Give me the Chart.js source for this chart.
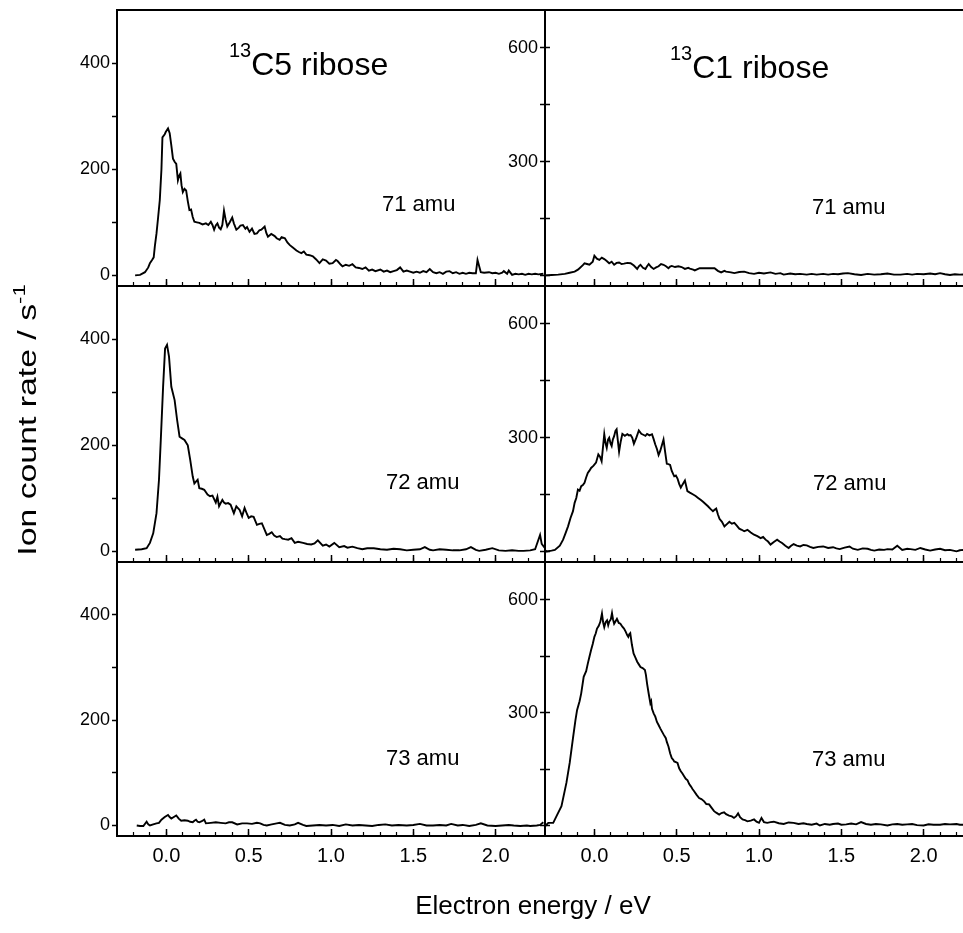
<!DOCTYPE html>
<html>
<head>
<meta charset="utf-8">
<script src="https://cdn.jsdelivr.net/npm/chart.js@4.4.0/dist/chart.umd.min.js"></script>
<style>
    html, body { margin: 0; padding: 0; background: #fff; overflow: hidden; width: 963px; height: 933px; }
    #page { position: relative; width: 963px; height: 933px; overflow: hidden; }
    canvas { position: absolute; }
    .lbl { position: absolute; z-index: 5; font-family: "Liberation Sans", Arial, sans-serif; color: #000; line-height: 1; white-space: nowrap; }
    .sup { position: relative; }
</style>
</head>
<body>
<div id="page">
    <div class="lbl" style="left:229px; top:48px; font-size:32px;"><span class="sup" style="font-size:20px; top:-18px;">13</span>C5 ribose</div>
    <div class="lbl" style="left:670px; top:51px; font-size:32px;"><span class="sup" style="font-size:20px; top:-18px;">13</span>C1 ribose</div>
    <div class="lbl" style="left:382px; top:193px; font-size:22px;">71 amu</div>
    <div class="lbl" style="left:386px; top:471px; font-size:22px;">72 amu</div>
    <div class="lbl" style="left:386px; top:747px; font-size:22px;">73 amu</div>
    <div class="lbl" style="left:812px; top:196px; font-size:22px;">71 amu</div>
    <div class="lbl" style="left:813px; top:472px; font-size:22px;">72 amu</div>
    <div class="lbl" style="left:812px; top:748px; font-size:22px;">73 amu</div>
    <div class="lbl" style="left:533px; top:905px; font-size:26px; transform: translate(-50%, -50%);">Electron energy / eV</div>
    <div class="lbl" style="left:27px; top:420px; font-size:26px; transform: translate(-50%, -50%) rotate(-90deg) scaleX(1.3);">Ion count rate / s<span class="sup" style="font-size:17px; top:-11px;">-1</span></div>
</div>
<script>
// axis ticks
const xMajorTicks = [0, 0.5, 1.0, 1.5, 2.0];
const xMinorTicks = [-0.2, -0.1, 0, 0.1, 0.2, 0.3, 0.4, 0.5, 0.6, 0.7, 0.8, 0.9, 1.0, 1.1, 1.2, 1.3, 1.4, 1.5, 1.6, 1.7, 1.8, 1.9, 2.0, 2.1, 2.2];
const leftYTicks = [0, 100, 200, 300, 400];
const leftYLabels = [0, 200, 400];
const rightYTicks = [0, 150, 300, 450, 600];
const rightYLabels = [300, 600];

// 13C5 ribose, 71 amu
const c5m71Energy = [
    -0.19, -0.16, -0.13, -0.11, -0.10, -0.085, -0.077, -0.07, -0.06, -0.05,
    -0.04, -0.03, -0.024, -0.01, -0.004, 0.01, 0.02, 0.03, 0.04, 0.05,
    0.06, 0.07, 0.078, 0.085, 0.092, 0.10, 0.11, 0.12, 0.13, 0.14,
    0.15, 0.16, 0.17, 0.185, 0.20, 0.22, 0.24, 0.255, 0.27, 0.28,
    0.29, 0.30, 0.31, 0.32, 0.33, 0.34, 0.35, 0.36, 0.37, 0.385,
    0.40, 0.41, 0.425, 0.44, 0.45, 0.465, 0.48, 0.49, 0.505, 0.52,
    0.535, 0.55, 0.565, 0.577, 0.597, 0.607, 0.617, 0.637, 0.658, 0.67,
    0.688, 0.70, 0.72, 0.735, 0.75, 0.77, 0.79, 0.805, 0.82, 0.835,
    0.85, 0.87, 0.89, 0.91, 0.93, 0.95, 0.97, 0.99, 1.01, 1.03,
    1.04, 1.06, 1.07, 1.09, 1.11, 1.13, 1.15, 1.17, 1.19, 1.21,
    1.23, 1.25, 1.27, 1.30, 1.32, 1.34, 1.36, 1.38, 1.40, 1.42,
    1.44, 1.46, 1.48, 1.50, 1.52, 1.54, 1.56, 1.58, 1.60, 1.62,
    1.64, 1.66, 1.68, 1.70, 1.72, 1.74, 1.76, 1.78, 1.80, 1.82,
    1.84, 1.86, 1.88, 1.89, 1.91, 1.93, 1.96, 1.98, 2.00, 2.02,
    2.04, 2.05, 2.07, 2.08, 2.10, 2.12, 2.14, 2.16, 2.18, 2.20,
    2.22, 2.24, 2.26, 2.29
];
const c5m71Counts = [
    0, 1, 6, 15, 23, 30, 34, 55, 79, 110,
    142, 200, 260, 266, 270, 277, 268, 245, 220, 214,
    210, 179, 188, 192, 170, 157, 163, 160, 140, 123,
    124, 110, 101, 100, 99, 96, 98, 95, 101, 95,
    86, 94, 98, 90, 87, 95, 122, 105, 92, 100,
    109, 98, 86, 90, 94, 95, 88, 91, 82, 88,
    78, 79, 85, 86, 92, 80, 73, 78, 74, 70,
    67, 72, 70, 62, 57, 52, 47, 44, 42, 45,
    39, 38, 36, 30, 23, 30, 28, 22, 23, 29,
    27, 20, 17, 20, 18, 21, 15, 14, 12, 15,
    9, 11, 8, 11, 7, 9, 6, 8, 10, 15,
    7, 9, 7, 5, 7, 5, 8, 6, 12, 6,
    4, 6, 3, 7, 8, 4, 6, 3, 5, 3,
    5, 4, 4, 29, 6, 5, 6, 4, 5, 3,
    5, 8, 3, 9, 1, 3, 2, 3, 1, 3,
    2, 3, 2, 3
];

// 13C1 ribose, 71 amu
const c1m71Energy = [
    -0.30, -0.26, -0.22, -0.18, -0.15, -0.12, -0.10, -0.09, -0.07, -0.06,
    -0.045, -0.03, -0.01, 0.0, 0.015, 0.03, 0.045, 0.06, 0.075, 0.09,
    0.105, 0.12, 0.135, 0.15, 0.165, 0.18, 0.20, 0.22, 0.24, 0.26,
    0.27, 0.28, 0.295, 0.31, 0.32, 0.33, 0.345, 0.36, 0.375, 0.39,
    0.405, 0.42, 0.435, 0.45, 0.46, 0.47, 0.49, 0.51, 0.53, 0.55,
    0.57, 0.58, 0.60, 0.61, 0.63, 0.64, 0.68, 0.73, 0.75, 0.77,
    0.79, 0.80, 0.83, 0.85, 0.88, 0.91, 0.94, 0.97, 1.00, 1.03,
    1.07, 1.10, 1.13, 1.15, 1.19, 1.22, 1.25, 1.29, 1.32, 1.35,
    1.39, 1.42, 1.45, 1.48, 1.51, 1.54, 1.58, 1.62, 1.66, 1.70,
    1.74, 1.78, 1.82, 1.86, 1.90, 1.93, 1.96, 2.00, 2.04, 2.07,
    2.10, 2.13, 2.16, 2.19, 2.22, 2.26, 2.30
];
const c1m71Counts = [
    0, 1, 2, 4, 7, 10, 15, 19, 27, 32,
    30, 28, 36, 52, 44, 41, 47, 43, 38, 32,
    36, 28, 33, 34, 30, 31, 33, 32, 26, 17,
    24, 28, 20, 17, 24, 30, 22, 17, 21, 24,
    30, 28, 24, 19, 23, 25, 22, 24, 22, 17,
    20, 18, 15, 13, 17, 19, 19, 19, 12, 8,
    12, 10, 8, 6, 9, 10, 6, 4, 7, 5,
    8, 4, 6, 2, 5, 3, 4, 2, 4, 2,
    4, 2, 4, 3, 5, 6, 3, 1, 4, 2,
    3, 5, 2, 2, 4, 2, 4, 3, 5, 3,
    6, 3, 1, 3, 2, 3, 2
];

// 13C5 ribose, 72 amu
const c5m72Energy = [
    -0.19, -0.15, -0.12, -0.10, -0.08, -0.06, -0.045, -0.034, -0.02, -0.008,
    0.004, 0.016, 0.03, 0.05, 0.065, 0.08, 0.095, 0.11, 0.13, 0.145,
    0.16, 0.17, 0.19, 0.20, 0.215, 0.23, 0.25, 0.265, 0.28, 0.30,
    0.31, 0.32, 0.34, 0.35, 0.36, 0.375, 0.39, 0.41, 0.425, 0.445,
    0.46, 0.475, 0.49, 0.50, 0.515, 0.53, 0.55, 0.565, 0.58, 0.61,
    0.625, 0.64, 0.655, 0.67, 0.69, 0.705, 0.72, 0.74, 0.76, 0.78,
    0.80, 0.83, 0.855, 0.88, 0.90, 0.92, 0.95, 0.97, 0.99, 1.02,
    1.05, 1.08, 1.10, 1.13, 1.16, 1.19, 1.22, 1.26, 1.30, 1.34,
    1.38, 1.42, 1.46, 1.50, 1.54, 1.57, 1.60, 1.62, 1.66, 1.70,
    1.74, 1.78, 1.82, 1.85, 1.88, 1.90, 1.94, 1.98, 2.02, 2.06,
    2.10, 2.14, 2.17, 2.21, 2.24, 2.27, 2.28, 2.30
];
const c5m72Counts = [
    3, 4, 6, 16, 34, 72, 135, 210, 310, 382,
    389, 367, 310, 285, 248, 216, 213, 210, 200, 172,
    141, 128, 135, 119, 118, 116, 107, 104, 105, 92,
    103, 85, 97, 92, 90, 91, 88, 72, 85, 78,
    66, 82, 70, 63, 66, 65, 50, 52, 53, 31,
    33, 36, 30, 27, 29, 24, 23, 22, 25, 16,
    18, 16, 14, 13, 15, 21, 11, 13, 9, 16,
    8, 10, 7, 9, 6, 4, 6, 6, 4, 3,
    5, 4, 2, 3, 4, 8, 3, 2, 4, 3,
    2, 2, 4, 8, 3, 1, 3, 6, 2, 1,
    2, 1, 1, 2, 4, 31, 14, 6
];

// 13C1 ribose, 72 amu
const c1m72Energy = [
    -0.30, -0.29, -0.26, -0.24, -0.21, -0.19, -0.175, -0.16, -0.145, -0.13,
    -0.12, -0.11, -0.10, -0.09, -0.08, -0.07, -0.06, -0.05, -0.04, -0.03,
    -0.02, -0.005, 0.01, 0.024, 0.034, 0.044, 0.06, 0.068, 0.075, 0.083,
    0.09, 0.098, 0.105, 0.112, 0.12, 0.128, 0.135, 0.143, 0.15, 0.16,
    0.17, 0.185, 0.20, 0.21, 0.22, 0.23, 0.24, 0.255, 0.27, 0.285,
    0.30, 0.31, 0.32, 0.335, 0.35, 0.36, 0.37, 0.38, 0.39, 0.40,
    0.41, 0.42, 0.43, 0.44, 0.45, 0.46, 0.47, 0.485, 0.495, 0.505,
    0.515, 0.525, 0.535, 0.55, 0.565, 0.58, 0.60, 0.615, 0.63, 0.645,
    0.66, 0.675, 0.69, 0.705, 0.72, 0.73, 0.74, 0.75, 0.76, 0.775,
    0.79, 0.805, 0.82, 0.835, 0.85, 0.865, 0.88, 0.895, 0.91, 0.93,
    0.95, 0.97, 0.99, 1.01, 1.025, 1.04, 1.055, 1.07, 1.09, 1.11,
    1.125, 1.14, 1.16, 1.18, 1.195, 1.21, 1.23, 1.25, 1.27, 1.29,
    1.31, 1.33, 1.36, 1.39, 1.42, 1.45, 1.47, 1.49, 1.52, 1.55,
    1.57, 1.60, 1.63, 1.66, 1.68, 1.70, 1.73, 1.76, 1.78, 1.81,
    1.84, 1.87, 1.90, 1.92, 1.95, 1.98, 2.01, 2.04, 2.07, 2.10,
    2.13, 2.16, 2.18, 2.20, 2.22, 2.24, 2.27, 2.30
];
const c1m72Counts = [
    3, 0, 2, 4, 15, 31, 48, 66, 88, 106,
    128, 141, 163, 160, 172, 175, 181, 195, 207, 213,
    220, 226, 234, 256, 250, 238, 309, 285, 273, 295,
    300, 285, 278, 295, 304, 318, 322, 290, 263, 290,
    310, 305, 309, 306, 307, 300, 284, 300, 319, 310,
    307, 305, 310, 306, 309, 296, 282, 270, 254, 265,
    280, 295, 262, 231, 230, 228, 212, 198, 200, 192,
    178, 168, 176, 187, 159, 155, 150, 146, 141, 136,
    131, 125, 119, 112, 106, 110, 113, 98, 86, 78,
    66, 72, 78, 73, 75, 68, 60, 57, 53, 57,
    50, 44, 40, 35, 38, 31, 26, 18, 25, 31,
    26, 22, 15, 9, 15, 19, 15, 13, 17, 16,
    12, 9, 12, 13, 9, 11, 8, 6, 10, 13,
    7, 4, 8, 7, 4, 2, 5, 4, 6, 5,
    15, 4, 7, 6, 4, 9, 5, 2, 5, 7,
    3, 4, 2, 0, 3, 4, 2, 3
];

// 13C5 ribose, 73 amu
const c5m73Energy = [
    -0.18, -0.16, -0.14, -0.12, -0.11, -0.10, -0.08, -0.06, -0.045, -0.03,
    -0.01, 0.01, 0.02, 0.03, 0.045, 0.06, 0.075, 0.09, 0.11, 0.13,
    0.145, 0.16, 0.17, 0.18, 0.19, 0.20, 0.215, 0.23, 0.24, 0.27,
    0.30, 0.33, 0.36, 0.38, 0.40, 0.43, 0.46, 0.49, 0.52, 0.55,
    0.57, 0.59, 0.61, 0.64, 0.67, 0.69, 0.72, 0.75, 0.78, 0.80,
    0.83, 0.85, 0.89, 0.93, 0.97, 1.01, 1.05, 1.09, 1.13, 1.17,
    1.21, 1.25, 1.29, 1.33, 1.37, 1.41, 1.46, 1.50, 1.54, 1.58,
    1.62, 1.66, 1.70, 1.73, 1.77, 1.80, 1.84, 1.88, 1.91, 1.95,
    2.00, 2.04, 2.08, 2.11, 2.15, 2.19, 2.21, 2.25, 2.27, 2.29
];
const c5m73Counts = [
    0, -1, -1, 7, 2, 0, 2, 4, 5, 11,
    16, 20, 16, 13, 16, 19, 13, 9, 10, 9,
    7, 6, 9, 11, 7, 6, 8, 11, 4, 5,
    6, 5, 4, 6, 6, 2, 4, 4, 3, 5,
    4, 1, 0, 2, 4, 5, 1, 0, 2, 5,
    1, -1, 0, 1, 0, 1, -1, 2, 0, 1,
    0, -1, 1, 2, 0, 1, 0, 1, 3, 0,
    0, 1, 0, 3, 0, 1, -1, 1, 4, 0,
    -1, 0, 1, 0, -1, 0, -1, 0, 1, 6
];

// 13C1 ribose, 73 amu
const c1m73Energy = [
    -0.30, -0.28, -0.25, -0.23, -0.20, -0.17, -0.15, -0.13, -0.115, -0.105,
    -0.09, -0.08, -0.065, -0.05, -0.04, -0.03, -0.02, -0.01, 0.0, 0.008,
    0.016, 0.026, 0.036, 0.046, 0.053, 0.06, 0.068, 0.077, 0.084, 0.09,
    0.10, 0.107, 0.113, 0.12, 0.128, 0.137, 0.148, 0.158, 0.17, 0.18,
    0.19, 0.20, 0.206, 0.212, 0.218, 0.228, 0.238, 0.25, 0.26, 0.27,
    0.28, 0.293, 0.307, 0.313, 0.32, 0.33, 0.34, 0.345, 0.35, 0.36,
    0.37, 0.38, 0.39, 0.40, 0.41, 0.42, 0.434, 0.44, 0.45, 0.46,
    0.47, 0.478, 0.485, 0.495, 0.505, 0.515, 0.525, 0.535, 0.545, 0.555,
    0.566, 0.576, 0.586, 0.596, 0.606, 0.62, 0.636, 0.65, 0.667, 0.68,
    0.697, 0.71, 0.727, 0.74, 0.758, 0.772, 0.788, 0.80, 0.818, 0.835,
    0.848, 0.86, 0.873, 0.885, 0.90, 0.915, 0.93, 0.95, 0.97, 0.985,
    1.00, 1.015, 1.03, 1.05, 1.07, 1.09, 1.12, 1.15, 1.18, 1.21,
    1.24, 1.27, 1.29, 1.32, 1.35, 1.37, 1.40, 1.43, 1.45, 1.48,
    1.50, 1.53, 1.56, 1.59, 1.62, 1.65, 1.68, 1.71, 1.74, 1.78,
    1.81, 1.84, 1.87, 1.90, 1.93, 1.96, 2.00, 2.03, 2.06, 2.10,
    2.13, 2.16, 2.20, 2.22, 2.24, 2.27, 2.30
];
const c1m73Counts = [
    -2, 7, 7, 25, 51, 113, 166, 232, 280, 307,
    330, 351, 395, 410, 430, 448, 466, 482, 501, 510,
    523, 530, 541, 563, 540, 527, 540, 545, 532, 541,
    548, 564, 548, 536, 542, 549, 538, 536, 528, 523,
    515, 505, 501, 508, 511, 480, 457, 445, 435, 428,
    421, 418, 413, 400, 377, 350, 325, 330, 310, 298,
    289, 275, 267, 258, 250, 242, 232, 222, 210, 192,
    179, 175, 170, 168, 166, 152, 144, 138, 131, 124,
    120, 110, 104, 97, 91, 82, 73, 70, 64, 57,
    56, 48, 38, 34, 29, 33, 35, 30, 26, 24,
    20, 24, 32, 22, 16, 14, 11, 13, 16, 10,
    7, 20, 9, 7, 9, 10, 6, 4, 8, 7,
    4, 6, 4, 2, 5, 0, 4, 2, 4, 5,
    2, 3, 5, 3, 9, 4, 2, 4, 3, 0,
    3, 4, 2, 3, 4, 1, 0, 3, 2, 2,
    4, 3, 4, 2, 2, 4, 3
];

const fontFamily = '"Liberation Sans", Arial, sans-serif';

function drawPanel(p){
    const padL = 75, padR = 8, padT = 8;
    const padB = p.bottom ? 70 : 8;
    const canvas = document.createElement('canvas');
    canvas.width = p.w + padL + padR;
    canvas.height = p.h + padT + padB;
    canvas.style.left = `${p.x - padL}px`;
    canvas.style.top = `${p.y - padT}px`;
    document.getElementById('page').appendChild(canvas);

    const noPad = s => { s.paddingLeft = 0; s.paddingRight = 0; s.paddingTop = 0; s.paddingBottom = 0; };
    const frameAxis = (axis, position) => ({
        axis: axis, type: 'linear', position: position, min: 0, max: 1,
        afterFit: s => { if(axis === 'x'){ s.height = 0; } else { s.width = 0; } noPad(s); },
        grid: { drawOnChartArea: false, drawTicks: false },
        border: { display: true, color: '#000', width: 2 },
        ticks: { display: false }
    });

    const scales = {
        x: {
            type: 'linear', position: 'bottom', weight: 1, min: -0.3, max: 2.3,
            afterBuildTicks: s => { s.ticks = xMajorTicks.map(v => ({ value: v })); },
            afterFit: s => { s.height = padB; noPad(s); },
            grid: { drawOnChartArea: false, tickLength: -7, tickColor: '#000', tickWidth: 1.5 },
            border: { display: true, color: '#000', width: 2 },
            ticks: {
                display: p.bottom, padding: 15, color: '#000', autoSkip: false, maxRotation: 0,
                font: { family: fontFamily, size: 20 },
                callback: v => v.toFixed(1)
            }
        },
        xMinor: {
            axis: 'x', type: 'linear', position: 'bottom', weight: 0, min: -0.3, max: 2.3,
            afterBuildTicks: s => { s.ticks = xMinorTicks.map(v => ({ value: v })); },
            afterFit: s => { s.height = 0; noPad(s); },
            grid: { drawOnChartArea: false, tickLength: -4, tickColor: '#000', tickWidth: 1.2 },
            border: { display: false },
            ticks: { display: false, autoSkip: false }
        },
        xTop: frameAxis('x', 'top'),
        y: {
            type: 'linear', position: 'left', weight: 1, min: p.yMin, max: p.yMax,
            afterBuildTicks: s => { s.ticks = p.yTicks.map(v => ({ value: v })); },
            afterFit: s => { s.width = padL; noPad(s); },
            grid: { drawOnChartArea: false, tickLength: 5, tickColor: '#000', tickWidth: 1.5 },
            border: { display: true, color: '#000', width: 2 },
            ticks: {
                padding: 2, color: '#000', autoSkip: false,
                font: { family: fontFamily, size: 18 },
                callback: v => p.yLabels.includes(v) ? String(v) : ''
            }
        },
        yRight: frameAxis('y', 'right')
    };
    if(p.innerTicks){
        // right column: y ticks cross the axis line
        scales.yIn = {
            axis: 'y', type: 'linear', position: 'left', weight: 0, min: p.yMin, max: p.yMax,
            afterBuildTicks: s => { s.ticks = p.yTicks.map(v => ({ value: v })); },
            afterFit: s => { s.width = 0; noPad(s); },
            grid: { drawOnChartArea: false, tickLength: -5, tickColor: '#000', tickWidth: 1.5 },
            border: { display: false },
            ticks: { display: false, autoSkip: false }
        };
    }

    new Chart(canvas, {
        type: 'line',
        data: {
            datasets: [{
                data: p.energy.map((e, i) => ({ x: e, y: p.counts[i] })),
                borderColor: '#000',
                borderWidth: 1.9,
                pointRadius: 0,
                tension: 0,
                fill: false
            }]
        },
        options: {
            responsive: false,
            animation: false,
            events: [],
            layout: { padding: { top: padT, right: padR, left: 0, bottom: 0 } },
            plugins: { legend: { display: false }, tooltip: { enabled: false } },
            scales: scales
        }
    });
}

const rowTops = [10, 286, 562];
const rowHeights = [276, 276, 274];
const leftPanels = [
    [c5m71Energy, c5m71Counts],
    [c5m72Energy, c5m72Counts],
    [c5m73Energy, c5m73Counts]
];
const rightPanels = [
    [c1m71Energy, c1m71Counts],
    [c1m72Energy, c1m72Counts],
    [c1m73Energy, c1m73Counts]
];

for(let r = 0; r < 3; r++){
    drawPanel({
        x: 117, y: rowTops[r], w: 428, h: rowHeights[r], bottom: r === 2,
        energy: leftPanels[r][0], counts: leftPanels[r][1],
        yMin: -20, yMax: 500, yTicks: leftYTicks, yLabels: leftYLabels
    });
    drawPanel({
        x: 545, y: rowTops[r], w: 428, h: rowHeights[r], bottom: r === 2, innerTicks: true,
        energy: rightPanels[r][0], counts: rightPanels[r][1],
        yMin: -28, yMax: 700, yTicks: rightYTicks, yLabels: rightYLabels
    });
}
</script>
</body>
</html>
